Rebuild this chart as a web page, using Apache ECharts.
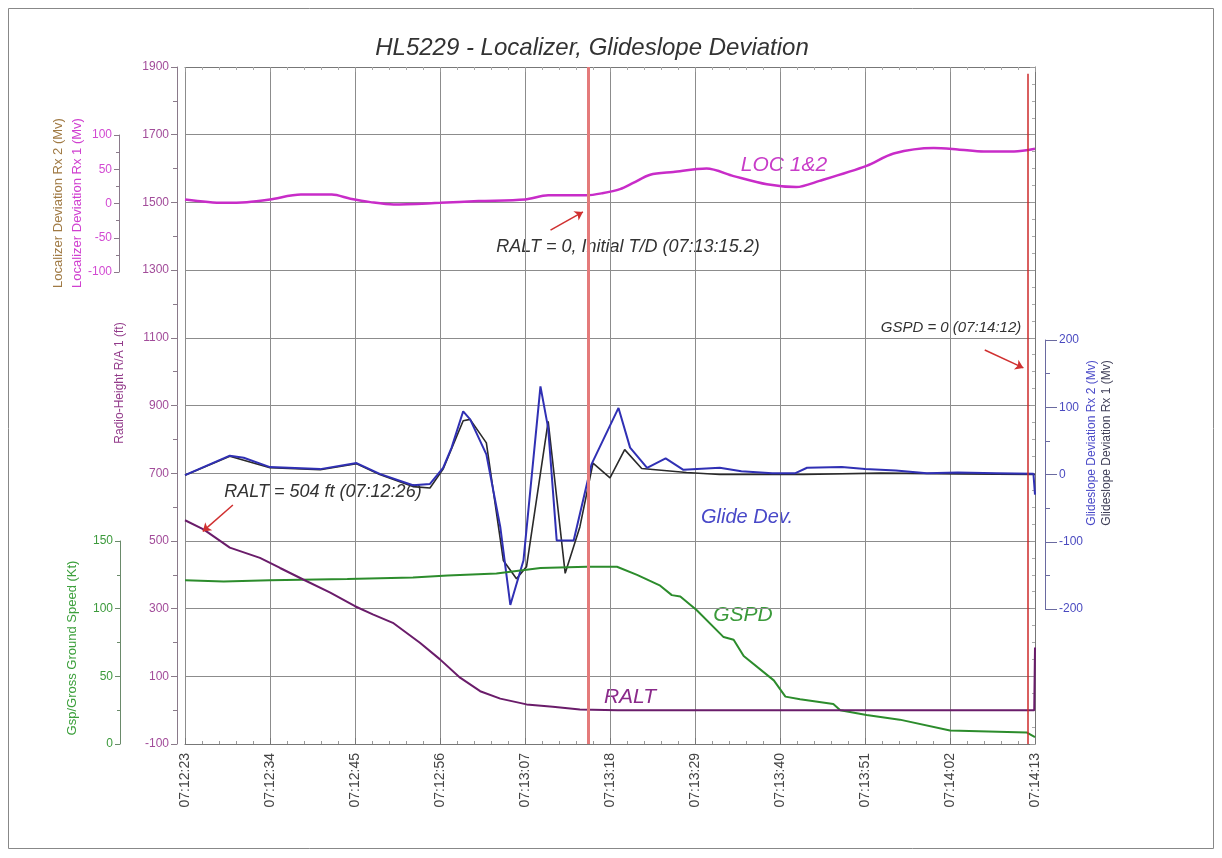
<!DOCTYPE html>
<html>
<head>
  <meta charset="UTF-8">
  <title>HL5229 - Localizer, Glideslope Deviation</title>
  <script src="https://cdn.jsdelivr.net/npm/echarts@6/dist/echarts.min.js"></script>
  <style>
    body { margin: 0; padding: 0; background: #fff; }
    #chart { width: 1222px; height: 858px; }
  </style>
</head>
<body>
  <div id="chart"></div>
  <script>
    // seconds after 07:12:23
    var xTicks = [0, 11, 22, 33, 44, 55, 66, 77, 88, 99, 110];

    // Localizer deviation (LOC 1&2)
    var locT = [0, 5, 8, 11, 15, 19, 21.4, 24, 27, 33, 38, 44, 47, 52, 54, 56.3, 58, 60.2, 63.2, 67.5, 71, 75.3, 79.1, 82.1, 88.2, 91.7, 96.9, 100, 103.4, 107.3, 110];
    var locV = [6, 1, 2, 6, 13, 13, 7, 2, -1.5, 1, 3.5, 6, 12, 12, 15, 21, 30, 42, 46, 51, 40, 28, 24, 33, 55, 73, 81, 79, 76, 76, 80];

    // Glideslope deviation Rx 2 (blue)
    var gs2T = [0, 5.8, 7.6, 11, 17.5, 22.2, 25.2, 29.5, 31.7, 33.4, 34.5, 36, 36.9, 39, 40.8, 42.1, 43.8, 46, 47, 48.1, 50.3, 52.6, 56.1, 57.6, 59.8, 62.2, 64.5, 69.2, 72, 76, 79, 80.5, 85, 88, 92, 96, 100, 105, 109.8, 110];
    var gs2V = [-1, 28, 25, 11, 8, 17, 1, -16, -14, 10, 40, 94, 82, 30, -78, -194, -128, 131, 69, -98, -98, 15, 99, 40, 10, 24, 7, 10, 5, 2, 2, 10, 11, 8, 6, 2, 3, 2, 1, -30];

    // Glideslope deviation Rx 1 (black)
    var gs1T = [0, 5.8, 11, 17.5, 22.2, 25.2, 29.5, 31.7, 33.4, 36, 36.9, 39, 41.2, 42.9, 44.2, 47, 49.2, 51.1, 52.8, 55, 56.9, 59.1, 64.9, 69.2, 80, 90, 100, 110];
    var gs1V = [-1, 27, 10, 7, 16, 0, -18, -20, 8, 80, 82, 47, -128, -155, -137, 79, -147, -78, 17, -5, 37, 9, 3, 0, 0, 2, 1, 0];

    // Ground speed (kt)
    var gspdT = [0, 5, 11, 21, 29.5, 34, 40.3, 46, 52, 55.9, 58.5, 61.5, 63, 64.1, 66.2, 69.7, 71, 72.3, 76.2, 77.7, 79.6, 83.9, 84.8, 88.2, 92.5, 99, 108.9, 110];
    var gspdV = [121, 120, 121, 122, 123, 124.5, 126, 130, 131, 131, 125, 117, 110, 109, 99, 79, 77, 65, 47, 35, 33, 29.5, 25, 21.5, 18, 10, 8.5, 5];

    // Radio altitude (ft)
    var raltT = [0, 2.4, 5.8, 9.7, 12.3, 15.3, 18.8, 22, 24.3, 26.9, 30.4, 33, 35.6, 38.2, 40.8, 44.2, 47.6, 51.1, 56, 80, 109.9, 110];
    var raltV = [561, 534, 480, 450, 420, 386, 347, 307, 283, 258, 199, 150, 96, 56, 34, 17, 10, 2, 0, 0, 0, 185];

    // events
    var tdTime = 52.2;   // 07:13:15.2
    var stopTime = 109;  // 07:14:12

    function zip(a, b) {
      var out = [];
      for (var i = 0; i < a.length; i++) out.push([a[i], b[i]]);
      return out;
    }
    function pad(n) { return n < 10 ? '0' + n : '' + n; }
    function timeLabel(t) {
      var s = 12 * 60 + 23 + t;
      return '07:' + pad(Math.floor(s / 60)) + ':' + pad(Math.round(s % 60));
    }
    function plain(v) { return String(v); }

    var FONT = 'Liberation Sans, Arial, sans-serif';
    var chart = echarts.init(document.getElementById('chart'));

    function hiddenX(i) {
      return { gridIndex: i, type: 'value', min: 0, max: 110, show: false, axisLine: { onZero: false } };
    }
    function nameText(txt, x, y, color, size) {
      return {
        type: 'text', x: x, y: y, rotation: Math.PI / 2,
        style: { text: txt, fill: color, font: size + 'px ' + FONT, align: 'center', verticalAlign: 'middle' }
      };
    }
    function note(txt, x, y, color, size) {
      return {
        type: 'text', x: x, y: y,
        style: { text: txt, fill: color, font: 'italic ' + size + 'px ' + FONT, align: 'center', verticalAlign: 'middle' }
      };
    }

    var grids = [
      { left: 185, right: 187, top: 67, height: 677 },
      { left: 185, right: 187, top: 135, height: 137 },
      { left: 185, right: 187, top: 340, height: 269 },
      { left: 185, right: 187, top: 541, height: 203 }
    ];
    grids.forEach(function (g) { g.outerBoundsMode = 'none'; });

    var option = {
      animation: false,
      backgroundColor: '#fff',
      grid: grids,
      xAxis: [
        {
          gridIndex: 0, type: 'value', min: 0, max: 110, interval: 11, position: 'bottom',
          axisLine: { onZero: false, lineStyle: { color: '#777' } },
          axisTick: { inside: true, length: 6, lineStyle: { color: '#777' } },
          minorTick: { show: true, splitNumber: 5, length: 3, lineStyle: { color: '#999' } },
          splitLine: { show: true, lineStyle: { color: '#8c8c8c', width: 1 } },
          axisLabel: {
            rotate: 90, margin: 9, color: '#444', fontSize: 14, fontFamily: FONT,
            formatter: function (v) { return timeLabel(v); }
          }
        },
        {
          gridIndex: 0, type: 'value', min: 0, max: 110, interval: 11, position: 'top',
          axisLine: { onZero: false, lineStyle: { color: '#777' } },
          axisTick: { inside: true, length: 5, lineStyle: { color: '#999' } },
          minorTick: { show: true, splitNumber: 5, length: 3, lineStyle: { color: '#aaa' } },
          axisLabel: { show: false }, splitLine: { show: false }
        },
        hiddenX(1), hiddenX(2), hiddenX(3)
      ],
      yAxis: [
        {
          gridIndex: 0, type: 'value', position: 'left', offset: 8,
          min: -100, max: 1900, interval: 200,
          axisLine: { show: true, onZero: false, lineStyle: { color: '#8a7a8a' } },
          axisTick: { show: true, length: 6, lineStyle: { color: '#8a7a8a' } },
          minorTick: { show: true, splitNumber: 2, length: 4, lineStyle: { color: '#8a7a8a' } },
          splitLine: { show: true, lineStyle: { color: '#8c8c8c', width: 1 } },
          axisLabel: { color: '#a24c9a', fontSize: 12, margin: 8, fontFamily: FONT, formatter: plain }
        },
        {
          gridIndex: 0, type: 'value', position: 'right', offset: 0,
          min: -100, max: 1900, interval: 200,
          axisLine: { show: true, onZero: false, lineStyle: { color: '#777' } },
          axisTick: { show: true, inside: true, length: 5, lineStyle: { color: '#999' } },
          minorTick: { show: true, splitNumber: 4, length: 3, lineStyle: { color: '#aaa' } },
          splitLine: { show: false }, axisLabel: { show: false }
        },
        {
          gridIndex: 1, type: 'value', position: 'left', offset: 66,
          min: -100, max: 100, interval: 50,
          axisLine: { show: true, onZero: false, lineStyle: { color: '#8a7a8a' } },
          axisTick: { show: true, length: 5, lineStyle: { color: '#8a7a8a' } },
          minorTick: { show: true, splitNumber: 2, length: 3, lineStyle: { color: '#8a7a8a' } },
          splitLine: { show: false },
          axisLabel: { color: '#d24ad2', fontSize: 12, margin: 7, fontFamily: FONT, formatter: plain }
        },
        {
          gridIndex: 2, type: 'value', position: 'right', offset: 10,
          min: -200, max: 200, interval: 100,
          axisLine: { show: true, onZero: false, lineStyle: { color: '#6a6aa0' } },
          axisTick: { show: true, length: 12, lineStyle: { color: '#6a6aa0' } },
          minorTick: { show: true, splitNumber: 2, length: 5, lineStyle: { color: '#6a6aa0' } },
          splitLine: { show: false },
          axisLabel: { color: '#4a4ac0', fontSize: 12, margin: 14, fontFamily: FONT, formatter: plain }
        },
        {
          gridIndex: 3, type: 'value', position: 'left', offset: 65,
          min: 0, max: 150, interval: 50,
          axisLine: { show: true, onZero: false, lineStyle: { color: '#6a8a6a' } },
          axisTick: { show: true, length: 5, lineStyle: { color: '#6a8a6a' } },
          minorTick: { show: true, splitNumber: 2, length: 3, lineStyle: { color: '#6a8a6a' } },
          splitLine: { show: false },
          axisLabel: { color: '#3c9a3c', fontSize: 12, margin: 7, fontFamily: FONT, formatter: plain }
        }
      ],
      series: [
        {
          name: 'LOC 1&2', type: 'line', xAxisIndex: 2, yAxisIndex: 2,
          data: zip(locT, locV), showSymbol: false, smooth: 0.3,
          lineStyle: { color: '#c82cc8', width: 2.5 }
        },
        {
          name: 'Glideslope Rx 1', type: 'line', xAxisIndex: 3, yAxisIndex: 3,
          data: zip(gs1T, gs1V), showSymbol: false,
          lineStyle: { color: '#2a2a2a', width: 1.6 }
        },
        {
          name: 'Glideslope Rx 2', type: 'line', xAxisIndex: 3, yAxisIndex: 3,
          data: zip(gs2T, gs2V), showSymbol: false,
          lineStyle: { color: '#3030b4', width: 2 }
        },
        {
          name: 'GSPD', type: 'line', xAxisIndex: 4, yAxisIndex: 4,
          data: zip(gspdT, gspdV), showSymbol: false,
          lineStyle: { color: '#2c8c2c', width: 2 }
        },
        {
          name: 'RALT', type: 'line', xAxisIndex: 0, yAxisIndex: 0,
          data: zip(raltT, raltV), showSymbol: false,
          lineStyle: { color: '#6a1c6a', width: 2 },
          markLine: {
            silent: true, animation: false,
            symbol: ['none', 'none'],
            label: { show: false },
            data: [
              [{ coord: [tdTime, 1900], lineStyle: { color: '#e47a7a', width: 3, type: 'solid' } }, { coord: [tdTime, -100] }],
              [{ coord: [stopTime, 1880], lineStyle: { color: '#cc2a2a', width: 1.5, type: 'solid' } }, { coord: [stopTime, -100] }],
              [{ coord: [47.3, 1418], symbol: 'none', lineStyle: { color: '#d03030', width: 1.5, type: 'solid' } }, { coord: [51.5, 1472], symbol: 'arrow', symbolSize: 8 }],
              [{ coord: [103.5, 1064], symbol: 'none', lineStyle: { color: '#d03030', width: 1.5, type: 'solid' } }, { coord: [108.5, 1011], symbol: 'arrow', symbolSize: 8 }],
              [{ coord: [6.2, 606], symbol: 'none', lineStyle: { color: '#d03030', width: 1.5, type: 'solid' } }, { coord: [2.3, 528], symbol: 'arrow', symbolSize: 8 }]
            ]
          }
        }
      ],
      graphic: [
        {
          type: 'rect', shape: { x: 8.5, y: 8.5, width: 1205, height: 840 },
          style: { fill: 'none', stroke: '#888', lineWidth: 1 }
        },
        note('HL5229 - Localizer, Glideslope Deviation', 592, 48, '#333', 24),
        note('RALT = 0, Initial T/D (07:13:15.2)', 628, 247, '#333', 18),
        note('GSPD = 0 (07:14:12)', 951, 328, '#333', 15),
        note('RALT = 504 ft (07:12:26)', 323, 492, '#333', 18),
        note('LOC 1&2', 784, 165, '#c83cc8', 21),
        note('Glide Dev.', 747, 517, '#4848c8', 20),
        note('GSPD', 743, 615, '#3a9a3a', 21),
        note('RALT', 630, 697, '#8a2a8a', 21),
        nameText('Localizer Deviation Rx 2 (Mv)', 58, 203, '#a07a44', 13),
        nameText('Localizer Deviation Rx 1 (Mv)', 77, 203, '#d040d0', 13),
        nameText('Radio-Height R/A 1 (ft)', 120, 383, '#923a8a', 12),
        nameText('Gsp/Gross Ground Speed (Kt)', 72, 648, '#3ca03c', 13),
        nameText('Glideslope Deviation Rx 2 (Mv)', 1092, 443, '#4a4ac8', 12),
        nameText('Glideslope Deviation Rx 1 (Mv)', 1107, 443, '#404058', 12)
      ]
    };

    chart.setOption(option);
  </script>
</body>
</html>
